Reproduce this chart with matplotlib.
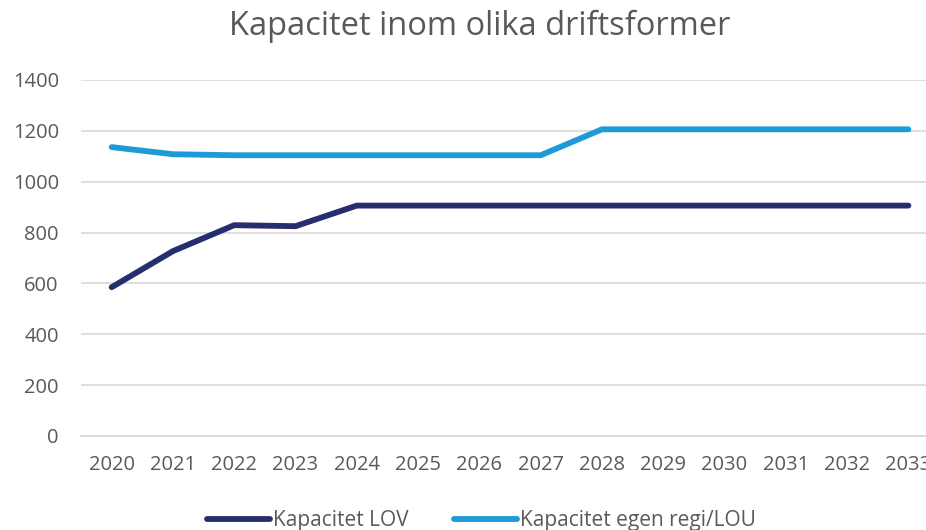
import matplotlib
matplotlib.use("Agg")
import matplotlib.pyplot as plt

years = ["2020", "2021", "2022", "2023", "2024", "2025", "2026", "2027",
         "2028", "2029", "2030", "2031", "2032", "2033"]
kap_lov = [585, 727, 829, 825, 906, 906, 906, 906, 906, 906, 906, 906, 906, 906]
kap_egen = [1136, 1108, 1104, 1104, 1104, 1104, 1104, 1104, 1206, 1206, 1206, 1206, 1206, 1206]
yticks = [0, 200, 400, 600, 800, 1000, 1200, 1400]

plt.rcParams['font.family'] = ['Open Sans', 'DejaVu Sans']

fig = plt.figure(figsize=(9.26, 5.30), dpi=100)
ax = fig.add_axes([0.0875, 0.1774, 0.9266, 0.6717])

x = list(range(len(years)))
ax.plot(x, kap_lov, color="#262E6E", lw=4.2, solid_capstyle="round", label="Kapacitet LOV", zorder=3)
ax.plot(x, kap_egen, color="#1E9BD7", lw=4.2, solid_capstyle="round", label="Kapacitet egen regi/LOU", zorder=3)

ax.set_xlim(-0.5, len(years) - 0.5)
ax.set_ylim(0, 1400)
ax.set_yticks(yticks)
ax.set_xticks(x)
ax.set_xticklabels(years)
ax.grid(axis="y", color="#D9D9D9", lw=1.2)
ax.set_axisbelow(True)
for s in ax.spines.values():
    s.set_visible(False)
ax.spines["bottom"].set_visible(True)
ax.spines["bottom"].set_color("#D9D9D9")
ax.spines["bottom"].set_linewidth(1.2)
ax.tick_params(length=0, labelsize=14.5, labelcolor="#595959")
ax.tick_params(axis="x", pad=14)
ax.tick_params(axis="y", pad=16)

fig.text(0.518, 0.950, "Kapacitet inom olika driftsformer", ha="center", va="center",
         fontsize=23.5, color="#595959")

fig.legend(loc="center", bbox_to_anchor=(0.52, 0.018), ncol=2, frameon=False,
           fontsize=15, labelcolor="#595959", handlelength=3.0, handletextpad=0.15,
           columnspacing=2.2)

fig.savefig("out.png", dpi=100)
